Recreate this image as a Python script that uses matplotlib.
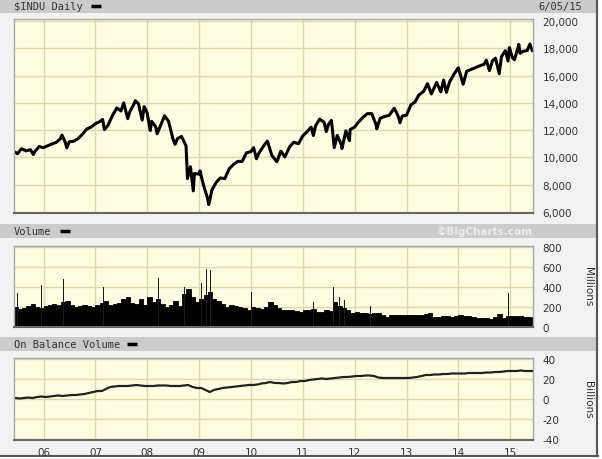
import matplotlib
matplotlib.use("Agg")
import matplotlib.pyplot as plt, pandas as pd
from matplotlib.patches import Rectangle
from matplotlib.lines import Line2D

# ---- data ----
price_dates = ["2005-06-03", "2005-06-30", "2005-07-29", "2005-08-31", "2005-09-30", "2005-10-20", "2005-10-31",
               "2005-11-30", "2005-12-30", "2006-01-31", "2006-02-28", "2006-03-31", "2006-04-28", "2006-05-10",
               "2006-05-31", "2006-06-13", "2006-06-30", "2006-07-31", "2006-08-31", "2006-09-29", "2006-10-31",
               "2006-11-30", "2006-12-29", "2007-01-31", "2007-02-20", "2007-03-05", "2007-03-30", "2007-04-30",
               "2007-05-31", "2007-06-29", "2007-07-19", "2007-08-16", "2007-08-31", "2007-09-28", "2007-10-09",
               "2007-10-31", "2007-11-26", "2007-12-10", "2007-12-31", "2008-01-22", "2008-01-31", "2008-02-29",
               "2008-03-10", "2008-03-31", "2008-05-02", "2008-05-30", "2008-06-30", "2008-07-15", "2008-07-31",
               "2008-08-29", "2008-09-30", "2008-10-10", "2008-10-31", "2008-11-20", "2008-11-28", "2008-12-31",
               "2009-01-06", "2009-01-30", "2009-02-27", "2009-03-09", "2009-03-31", "2009-04-30", "2009-05-29",
               "2009-06-30", "2009-07-31", "2009-08-31", "2009-09-30", "2009-10-30", "2009-11-30", "2009-12-31",
               "2010-01-19", "2010-02-08", "2010-02-26", "2010-03-31", "2010-04-26", "2010-05-28", "2010-07-02",
               "2010-07-30", "2010-08-27", "2010-09-30", "2010-10-29", "2010-11-30", "2010-12-31", "2011-01-31",
               "2011-02-28", "2011-03-16", "2011-03-31", "2011-04-29", "2011-05-31", "2011-06-15", "2011-06-30",
               "2011-07-21", "2011-08-10", "2011-08-31", "2011-09-30", "2011-10-03", "2011-10-31", "2011-11-25",
               "2011-11-30", "2011-12-30", "2012-01-31", "2012-02-29", "2012-03-30", "2012-04-30", "2012-05-31",
               "2012-06-04", "2012-06-29", "2012-07-31", "2012-08-31", "2012-10-05", "2012-10-31", "2012-11-15",
               "2012-11-30", "2012-12-31", "2013-01-31", "2013-02-28", "2013-03-28", "2013-04-30", "2013-05-28",
               "2013-06-24", "2013-07-31", "2013-08-30", "2013-09-18", "2013-10-08", "2013-10-31", "2013-11-29",
               "2013-12-31", "2014-02-03", "2014-02-28", "2014-03-31", "2014-04-30", "2014-05-30", "2014-06-30",
               "2014-07-16", "2014-08-07", "2014-08-29", "2014-09-19", "2014-10-15", "2014-10-31", "2014-11-28",
               "2014-12-16", "2014-12-26", "2015-01-16", "2015-01-30", "2015-02-27", "2015-03-02", "2015-03-11",
               "2015-03-31", "2015-04-30", "2015-05-19", "2015-05-29", "2015-06-05"]
price_vals = [10460, 10275, 10641, 10482, 10569, 10215, 10440,
              10806, 10718, 10865, 10993, 11109, 11367, 11642,
              11168, 10706, 11150, 11186, 11381, 11679, 12081,
              12222, 12463, 12622, 12786, 12050, 12354, 13063,
              13628, 13409, 14000, 12845, 13358, 13896, 14165,
              13930, 12743, 13727, 13265, 11971, 12650, 12266,
              11740, 12263, 13058, 12638, 11350, 10963, 11378,
              11544, 10851, 8451, 9325, 7552, 8829, 8776,
              9015, 8001, 7063, 6547, 7609, 8168, 8500,
              8447, 9172, 9496, 9712, 9713, 10345, 10428,
              10725, 9908, 10325, 10857, 11205, 10137, 9686,
              10466, 10040, 10788, 11118, 11006, 11578, 11892,
              12226, 11613, 12320, 12811, 12570, 11897, 12414,
              12724, 10720, 11614, 10913, 10655, 11955, 11231,
              12046, 12218, 12633, 12952, 13212, 13214, 12393,
              12101, 12880, 13009, 13091, 13610, 13096, 12543,
              13026, 13104, 13861, 14054, 14579, 14840, 15409,
              14660, 15500, 14810, 15677, 14776, 15546, 16086,
              16577, 15372, 16322, 16458, 16581, 16717, 16827,
              17138, 16368, 17098, 17280, 16142, 17391, 17828,
              17068, 18053, 17320, 17165, 18133, 18288, 17635,
              17776, 17841, 18312, 18011, 17849]

months = pd.date_range("2005-06-01", "2015-06-01", freq="MS")
# typical volume per month, millions
volume_vals = [200, 180, 190, 210, 230, 200, 190,
               210, 220, 230, 220, 250, 260, 220, 200, 210, 220, 210, 200,
               220, 240, 260, 220, 230, 240, 280, 300, 240, 230, 280, 220,
               300, 250, 280, 230, 200, 220, 260, 210, 330, 380, 300, 250,
               280, 320, 350, 280, 260, 230, 200, 220, 210, 200, 190, 170,
               200, 190, 180, 200, 250, 220, 190, 170, 170, 170, 160, 150,
               170, 170, 180, 150, 150, 170, 160, 250, 210, 190, 170, 140,
               150, 140, 140, 130, 140, 140, 120, 100, 120, 120, 120, 120,
               120, 120, 120, 120, 130, 140, 100, 100, 110, 110, 100, 110,
               120, 110, 110, 100, 90, 90, 90, 80, 100, 130, 90, 110,
               110, 110, 110, 100, 100, 90]
spike_dates = ["2005-07-01", "2005-12-16", "2006-05-22", "2007-02-27", "2007-04-20", "2007-09-21",
               "2008-01-22", "2008-03-20", "2008-07-15", "2008-09-19", "2009-01-16", "2009-02-20",
               "2009-03-20", "2009-04-14", "2009-05-15", "2010-01-04", "2010-05-06", "2010-06-18",
               "2010-11-05", "2011-03-18", "2011-08-05", "2011-09-16", "2011-10-20", "2012-04-20",
               "2012-09-21", "2013-03-15", "2014-02-14", "2014-12-19"]
spike_vals = [340, 420, 480, 400, 410, 410,
              530, 490, 340, 400, 440, 580,
              570, 500, 450, 350, 450, 420,
              290, 250, 400, 300, 270, 210,
              430, 400, 240, 340]
# on balance volume per month, billions
obv_vals = [1, 0.5, 1, 1.5, 1, 2, 2.5,
            2, 2.5, 3, 3.5, 3, 3.5, 4, 4, 4.5, 5, 6, 7,
            8, 8, 10, 12, 12.5, 13, 13, 13, 13.5, 14, 13.5, 13,
            13, 13, 13.5, 13.5, 13.5, 13, 13, 13, 13.5, 14, 12, 11,
            11, 9, 7, 9, 10, 11, 11.5, 12, 12.5, 13, 13.5, 14,
            14, 14.5, 15.5, 16, 17, 16, 16, 15.5, 16, 17, 17, 18,
            18, 19, 19.5, 20, 20.5, 20, 20.5, 21, 21.5, 22, 22, 22.5,
            23, 23, 23.5, 23.5, 23, 21.5, 21, 21, 21, 21, 21, 21,
            21, 21.5, 22, 23, 24, 24, 24.5, 24.5, 25, 25, 25.5, 25.5,
            25.5, 25.5, 26, 26, 26, 26, 26.5, 26.5, 27, 27, 27.5, 28,
            28, 28, 28.5, 28, 28, 28]
year_labels = ["06", "07", "08", "09", "10", "11", "12", "13", "14", "15"]

W, H = 602, 460
def fx(x): return x / W
def fy(y): return 1 - y / H

fig = plt.figure(figsize=(6.02, 4.60), dpi=100, facecolor="white")

# outer panel and header bars
fig.add_artist(Rectangle((0, fy(456)), fx(597), 456 / H, transform=fig.transFigure,
                         facecolor="#f2f2f2", edgecolor="none", zorder=-5))
fig.add_artist(Line2D([fx(597), fx(597)], [fy(0), fy(457)], transform=fig.transFigure, color="#555555", lw=1.5))
fig.add_artist(Line2D([0, fx(598)], [fy(457), fy(457)], transform=fig.transFigure, color="#555555", lw=1.5))
for top, bot in [(0, 14), (225, 239), (338, 352)]:
    fig.add_artist(Rectangle((0, fy(bot)), fx(597), (bot - top) / H, transform=fig.transFigure,
                             facecolor="#cbcbcb", edgecolor="none", zorder=-4))

mono = dict(family="DejaVu Sans Mono", fontsize=7.5, color="#333333", va="center")
for txt, y, x1 in [("\\$INDU Daily", 7, 91), ("Volume", 232, 60), ("On Balance Volume", 345, 127)]:
    fig.text(fx(14), fy(y), txt, **mono)
    fig.add_artist(Line2D([fx(x1), fx(x1 + 10)], [fy(y), fy(y)], transform=fig.transFigure,
                          color="black", lw=2.5, solid_capstyle="butt"))
fig.text(fx(582), fy(7), "6/05/15", ha="right", **mono)
fig.text(fx(533), fy(232), "©BigCharts.com", ha="right", va="center", fontsize=7.5,
         fontweight="bold", color="#ececec", family="DejaVu Sans")

xmin, xmax = pd.Timestamp("2005-06-06"), pd.Timestamp("2015-06-10")
years = pd.date_range("2006-01-01", "2015-01-01", freq="YS")

def style(ax, ticks, labels, ylim):
    ax.set_facecolor("#fffee3")
    ax.set_xlim(xmin, xmax)
    ax.set_ylim(*ylim)
    ax.set_xticks(years)
    ax.set_yticks(ticks)
    ax.set_yticklabels(labels)
    ax.yaxis.tick_right()
    ax.tick_params(axis="y", length=0, pad=7, labelsize=7.5, labelcolor="#333333")
    ax.tick_params(axis="x", length=0, labelbottom=False)
    ax.grid(True, color="#d9d8ae", lw=1)
    ax.set_axisbelow(True)
    for s in ax.spines.values():
        s.set_color("#a8a8a8")
        s.set_linewidth(1)
    ax.spines["bottom"].set_color("#666666")
    ax.spines["bottom"].set_linewidth(1.5)

# price panel
ax1 = fig.add_axes([fx(14), fy(214), fx(533) - fx(14), 194 / H])
pt = list(range(6000, 20001, 2000))
style(ax1, pt, [f"{v:,}" for v in pt], (5930, 20150))
ax1.plot(pd.to_datetime(price_dates), price_vals, color="black", lw=2.2)

# volume panel
ax2 = fig.add_axes([fx(14), fy(328), fx(533) - fx(14), 81 / H])
vt = [0, 200, 400, 600, 800]
style(ax2, vt, [str(v) for v in vt], (0, 810))
ax2.bar(months, volume_vals, width=31, align="edge", color="black", edgecolor="black", linewidth=0.6)
ax2.bar(pd.to_datetime(spike_dates), spike_vals, width=3, color="#1a1a1a", linewidth=0)
fig.text(fx(588), fy(287), "Millions", rotation=270, ha="center", va="center",
         fontsize=7.5, color="#333333")

# on balance volume panel
ax3 = fig.add_axes([fx(14), fy(441), fx(533) - fx(14), 82 / H])
ot = [-40, -20, 0, 20, 40]
style(ax3, ot, [str(v) for v in ot], (-41, 41))
ax3.plot(months + pd.Timedelta(days=14), obv_vals, color="#222222", lw=1.6)
ax3.tick_params(axis="x", labelbottom=True, pad=5, labelsize=7.5, labelcolor="#333333")
ax3.set_xticklabels(year_labels)
fig.text(fx(588), fy(400), "Billions", rotation=270, ha="center", va="center",
         fontsize=7.5, color="#333333")

fig.savefig("out.png", dpi=100, facecolor=fig.get_facecolor())
